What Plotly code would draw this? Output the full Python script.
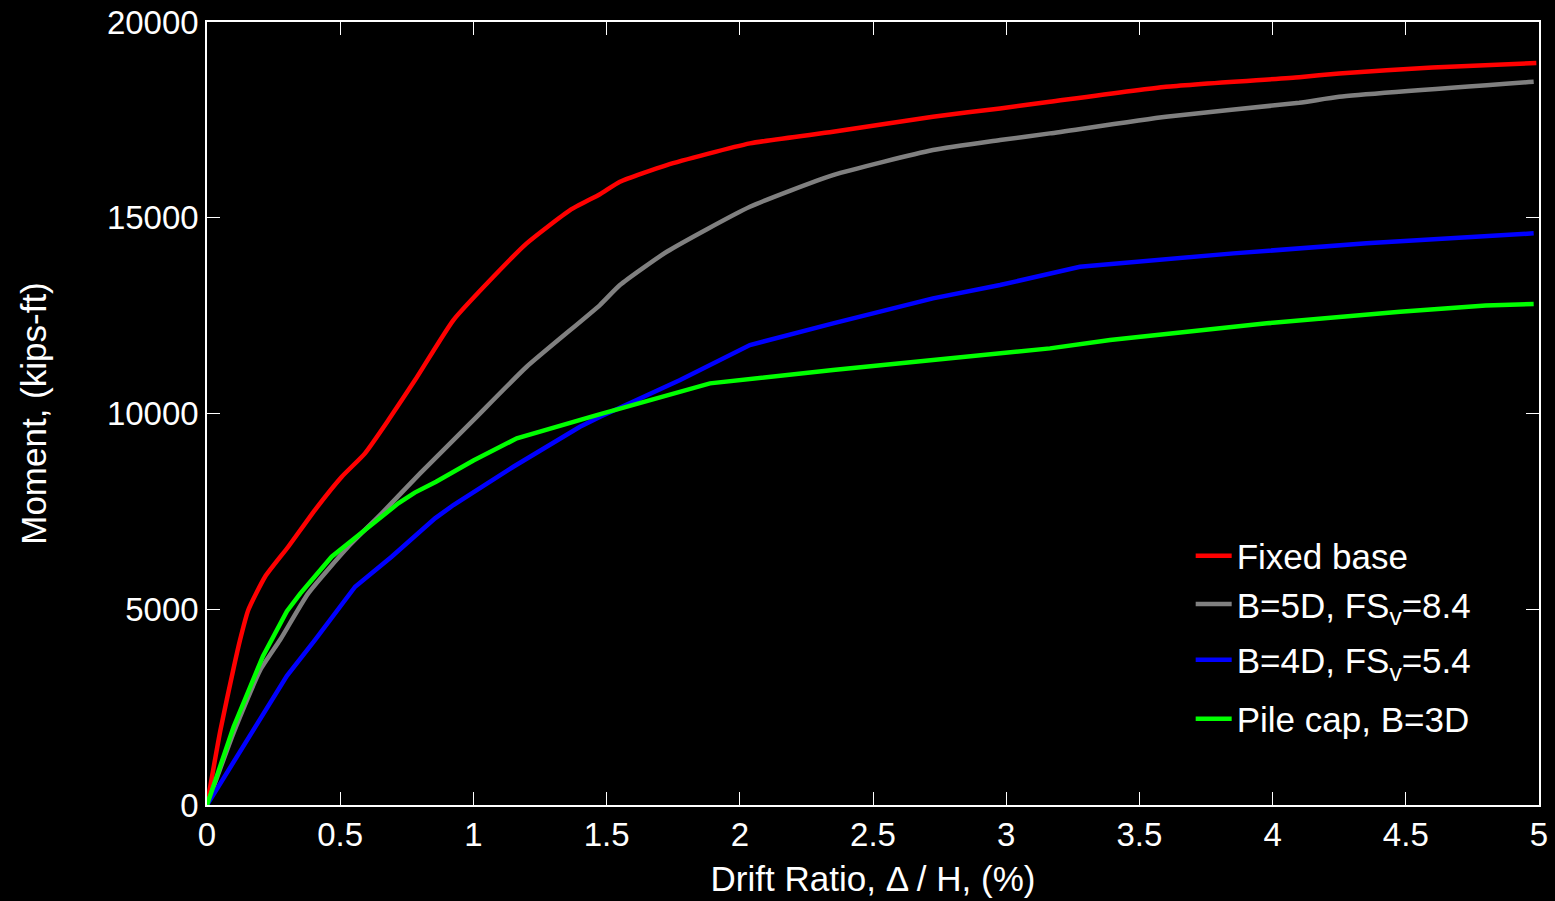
import plotly.graph_objects as go

# Fixed base
red_x = [0, 0.05, 0.1, 0.124, 0.155, 0.218, 0.305, 0.405, 0.506, 0.593, 0.681, 0.781, 0.925, 1.075,
         1.2, 1.363, 1.475, 1.55, 1.726, 2.038, 2.35, 2.725, 2.977, 3.164, 3.6, 4.1, 4.25, 4.6, 4.99]
red_y = [0, 1900, 3500, 4214, 4980, 5831, 6597, 7534, 8385, 8983, 9833, 10855, 12387, 13493,
         14346, 15196, 15600, 15920, 16346, 16900, 17196, 17580, 17793, 17962, 18346, 18590, 18687, 18840, 18950]

# B=5D, FSv=8.4
grey_x = [0, 0.1, 0.2, 0.274, 0.38, 0.53, 0.656, 0.8, 1.0, 1.2, 1.475, 1.55, 1.726, 2.038, 2.35,
          2.725, 2.977, 3.164, 3.6, 4.1, 4.25, 4.98]
grey_y = [0, 1850, 3450, 4214, 5406, 6597, 7450, 8472, 9830, 11194, 12770, 13281, 14131, 15281, 16090,
          16729, 16984, 17155, 17580, 17937, 18090, 18474]

# B=4D, FSv=5.4
blue_x = [0, 0.1, 0.2, 0.3, 0.405, 0.556, 0.693, 0.856, 0.925, 1.15, 1.4, 1.476, 1.776, 2.038, 2.35,
          2.725, 2.977, 3.277, 3.853, 4.353, 4.98]
blue_y = [0, 1100, 2200, 3300, 4214, 5576, 6342, 7322, 7662, 8640, 9660, 9917, 10855, 11748, 12303,
          12941, 13281, 13748, 14090, 14346, 14601]

# Pile cap, B=3D
green_x = [0, 0.1, 0.21, 0.3, 0.35, 0.468, 0.593, 0.718, 0.78, 0.86, 1.0, 1.163, 1.463, 1.888, 2.35,
           2.725, 3.164, 3.39, 3.978, 4.478, 4.8, 4.98]
green_y = [0, 2000, 3800, 4950, 5400, 6342, 7023, 7705, 7980, 8257, 8800, 9365, 9960, 10770, 11110,
           11365, 11663, 11876, 12303, 12601, 12760, 12800]

names = ["Fixed base", "B=5D, FS<sub>v</sub>=8.4", "B=4D, FS<sub>v</sub>=5.4", "Pile cap, B=3D"]
colors = ["#ff0000", "#808080", "#0000ff", "#00ff00"]
series = [(red_x, red_y), (grey_x, grey_y), (blue_x, blue_y), (green_x, green_y)]
shapes = ["spline", "spline", "linear", "linear"]
legend_ids = ["legend", "legend2", "legend3", "legend4"]
legend_y = [0.318, 0.2565, 0.1852, 0.1098]

x_ticks = [0, 0.5, 1, 1.5, 2, 2.5, 3, 3.5, 4, 4.5, 5]
y_ticks = [0, 5000, 10000, 15000, 20000]

FONT = "Liberation Sans, Arial, sans-serif"

fig = go.Figure()
for (xs, ys), n, c, lg, sh in zip(series, names, colors, legend_ids, shapes):
    line = dict(color=c, width=4.5, shape=sh)
    if sh == "spline":
        line["smoothing"] = 0.5
    fig.add_trace(go.Scatter(x=xs, y=ys, mode="lines", name=n, legend=lg, line=line))

legend_common = dict(x=0.7385, xanchor="left", yanchor="middle", bgcolor="rgba(0,0,0,0)",
                     font=dict(size=35, color="white", family=FONT), itemwidth=36)
layout_legends = {lg: dict(legend_common, y=yy) for lg, yy in zip(legend_ids, legend_y)}

fig.update_layout(
    width=1555, height=901,
    paper_bgcolor="black", plot_bgcolor="black",
    margin=dict(l=207, r=16, t=22, b=96, autoexpand=False),
    font=dict(family=FONT, color="white", size=30),
    showlegend=True,
    **layout_legends,
)
fig.update_xaxes(range=[0, 5], tickvals=x_ticks, ticktext=[str(v) for v in x_ticks],
                 automargin=False,
                 showgrid=False, zeroline=False, showline=True, linecolor="white", linewidth=1.5,
                 mirror="ticks", ticks="inside", ticklen=13, tickcolor="white", tickwidth=1,
                 title=dict(text="Drift Ratio, \u0394 / H, (%)", standoff=14,
                            font=dict(size=35, family=FONT, color="white")),
                 tickfont=dict(size=33, color="white"))
fig.update_yaxes(range=[0, 20000], tickvals=y_ticks, ticktext=[str(v) for v in y_ticks],
                 automargin=False,
                 showgrid=False, zeroline=False, showline=True, linecolor="white", linewidth=1.5,
                 mirror="ticks", ticks="inside", ticklen=13, tickcolor="white", tickwidth=1,
                 title=dict(text="Moment, (kips-ft)", standoff=50,
                            font=dict(size=35, family=FONT, color="white")),
                 tickfont=dict(size=33, color="white"))

fig.write_html("out.html", config={"displayModeBar": False},
               post_script="document.body.style.margin='0';document.body.style.background='black';")
